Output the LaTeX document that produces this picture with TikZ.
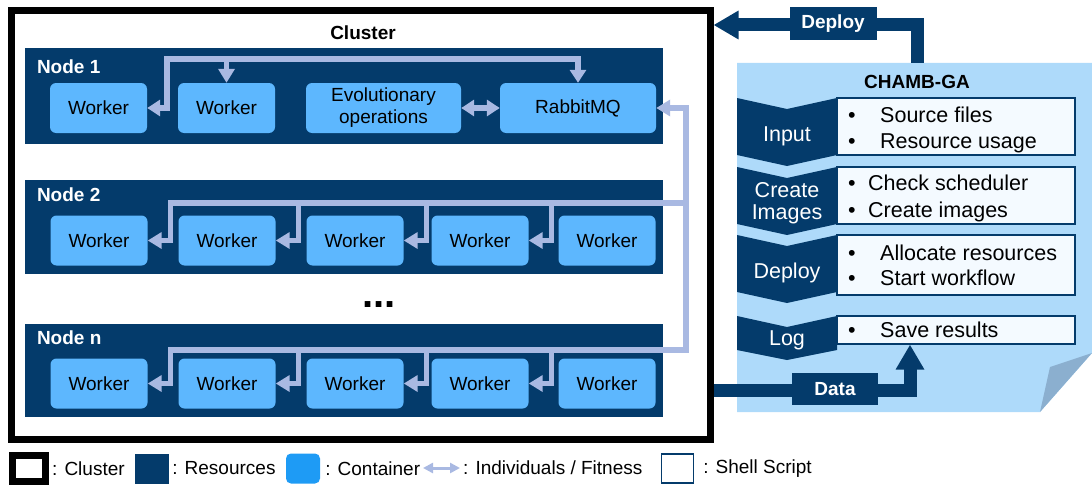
\documentclass[tikz,border=0pt]{standalone}
\usepackage{fontspec}
\setmainfont{Liberation Sans}
\usepackage{tikz}
\usetikzlibrary{arrows.meta,positioning}

\definecolor{resblue}{HTML}{043B6B}
\definecolor{contblue}{HTML}{5DB7FE}
\definecolor{legcont}{HTML}{1E9BF5}
\definecolor{indarrow}{HTML}{A9B9E2}
\definecolor{scriptblue}{HTML}{AEDAFA}
\definecolor{foldblue}{HTML}{8BAFCF}
\definecolor{textfill}{HTML}{F4FAFF}

\begin{document}
\begin{tikzpicture}[x=1pt,y=-1pt,
    every node/.style={font=\fontsize{19}{22}\selectfont,inner sep=0pt},
    container/.style={rectangle,rounded corners=6pt,fill=contblue,minimum width=97pt,minimum height=50pt,align=center},
    resource/.style={rectangle,fill=resblue,minimum width=638pt},
    reslabel/.style={text=white,font=\fontsize{19}{22}\selectfont\bfseries,anchor=west},
    indline/.style={draw=indarrow,line width=5.5pt,line cap=rect,-{Triangle[length=14pt,width=16pt]}},
    indboth/.style={indline,{Triangle[length=13pt,width=16pt]}-{Triangle[length=13pt,width=16pt]}},
    bigarrow/.style={draw=resblue,line width=13pt,-{Triangle[length=25pt,width=27pt]}},
    biglabel/.style={fill=resblue,text=white,font=\fontsize{19}{22}\selectfont\bfseries,minimum width=87pt,minimum height=33pt},
    stepbox/.style={draw=resblue,line width=1.2pt,fill=textfill,minimum width=238pt},
    steptext/.style={text=white,font=\fontsize{21.5}{23}\selectfont,anchor=base},
    bullet/.style={font=\fontsize{21.5}{23}\selectfont,anchor=base west},
    legtext/.style={anchor=west}
  ]
  \useasboundingbox (0,0) rectangle (1092,487);

  % shell script page
  \fill[scriptblue] (737,63) -- (1092,63) -- (1092,353) -- (1040,412) -- (737,412) -- cycle;
  \fill[foldblue] (1040,412) -- (1050,367) -- (1092,353) -- cycle;
  \node[font=\fontsize{19}{22}\selectfont\bfseries] (chambga) at (917,82) {CHAMB-GA};

  % cluster
  \node[draw,line width=7pt,minimum width=699pt,minimum height=428pt] (cluster) at (360.5,225) {};
  \node[font=\fontsize{19}{22}\selectfont\bfseries] (clustertitle) at (363,33) {Cluster};

  % resources
  \node[resource,minimum height=96pt] (res1) at (344,96) {};
  \node[resource,minimum height=94pt] (res2) at (344,227) {};
  \node[resource,minimum height=93pt] (resn) at (344,370.5) {};
  \node[reslabel] (lbl1) at ([xshift=12pt,yshift=-19pt]res1.north west) {Node 1};
  \node[reslabel] (lbl2) at ([xshift=12pt,yshift=-15pt]res2.north west) {Node 2};
  \node[reslabel] (lbln) at ([xshift=12pt,yshift=-14pt]resn.north west) {Node n};
  \node[font=\fontsize{40}{40}\selectfont\bfseries,anchor=base] (dots) at (379,307) {...};

  % containers
  \node[container] (n1w1) at (98.5,108) {Worker};
  \node[container] (n1w2) at (226.5,108) {Worker};
  \node[container,minimum width=155pt] (n1evo) at (383.5,108) {Evolutionary\\operations};
  \node[container,minimum width=156pt] (n1rmq) at (578,108) {RabbitMQ};
  \foreach \r/\y in {2/240.5,n/383.5} {
    \foreach \i/\x in {1/99,2/227,3/355,4/480,5/607}
      \node[container] (w\r\i) at (\x,\y) {Worker};
  }

  % individuals / fitness
  \coordinate (top1) at (167,59);
  \coordinate (bus2) at (686,203);
  \coordinate (busn) at (686,350);
  \draw[indboth] (n1w1.east) -| (top1) -| (n1rmq.north);
  \draw[indline] (top1 -| n1w2.north) -- (n1w2.north);
  \draw[indboth] (n1evo.east) -- (n1rmq.west);
  \draw[indline] (busn) |- (n1rmq.east);
  \foreach \r in {2,n} {
    \foreach \i in {1,...,4}
      \draw[indline] (bus\r) -| ([xshift=23pt]w\r\i.east) -- (w\r\i.east);
  }

  % steps
  \foreach \t/\b/\p in {98/155/166,167/224/235,235/292/303,316/350/360}
    \fill[resblue] (737,\t) -- (787,\t+11) -- (837,\t) -- (837,\b) -- (787,\p) -- (737,\b) -- cycle;
  \node[stepbox,minimum height=57pt] (inputbox) at (956,126.5) {};
  \node[stepbox,minimum height=57pt] (createbox) at (956,195.5) {};
  \node[stepbox,minimum height=60pt] (deploybox) at (956,265) {};
  \node[stepbox,minimum height=28pt] (logbox) at (956,330) {};
  \node[steptext] (sinput) at (787,141) {Input};
  \node[steptext] (screate) at (787,197) {Create};
  \node[steptext] (simages) at (787,219) {Images};
  \node[steptext] (sdeploy) at (787,278) {Deploy};
  \node[steptext] (slog) at (787,345) {Log};
  \foreach \x/\y/\txt in {880/122/Source files,880/148/Resource usage,
                          868/190/Check scheduler,868/217/Create images,
                          880/260/Allocate resources,880/285/Start workflow,
                          880/337/Save results} {
    \node[bullet] (b\y) at (848,\y) {\textbullet};
    \node[bullet] (t\y) at (\x,\y) {\txt};
  }

  % deploy / data
  \coordinate (scripttop) at (917,63);
  \coordinate (deployturn) at (917,25);
  \coordinate (dataturn) at (910,390);
  \draw[bigarrow] (scripttop) |- (cluster.east |- deployturn);
  \draw[bigarrow] (cluster.east |- dataturn) -| (logbox.south -| dataturn);
  \node[biglabel] (deploylbl) at (833,24) {Deploy};
  \node[biglabel,minimum width=86pt,minimum height=32pt] (datalbl) at (835,389) {Data};

  % legend
  \node[draw,line width=7pt,fill=white,minimum width=33pt,minimum height=26pt] (legcluster) at (29,468.5) {};
  \node[legtext,right=3pt of legcluster] (ltcluster) {: Cluster};
  \node[fill=resblue,minimum width=34pt,minimum height=30pt] (legres) at (152,468.5) {};
  \node[legtext,right=3pt of legres] (ltres) {: Resources};
  \node[fill=legcont,rounded corners=5pt,minimum width=34pt,minimum height=30pt] (legcont) at (303,468.5) {};
  \node[legtext,right=5pt of legcont] (ltcont) {: Container};
  \coordinate (legarra) at (423,468);
  \coordinate (legarrb) at (460,468);
  \draw[draw=indarrow,line width=3pt,{Triangle[length=10pt,width=10pt]}-{Triangle[length=10pt,width=10pt]}] (legarra) -- (legarrb);
  \node[legtext,right=3pt of legarrb] (ltind) {: Individuals / Fitness};
  \node[draw=resblue,line width=1.2pt,fill=white,minimum width=32pt,minimum height=29pt] (legscript) at (677.5,468.5) {};
  \node[legtext,right=9pt of legscript] (ltscript) {: Shell Script};
\end{tikzpicture}
\end{document}
